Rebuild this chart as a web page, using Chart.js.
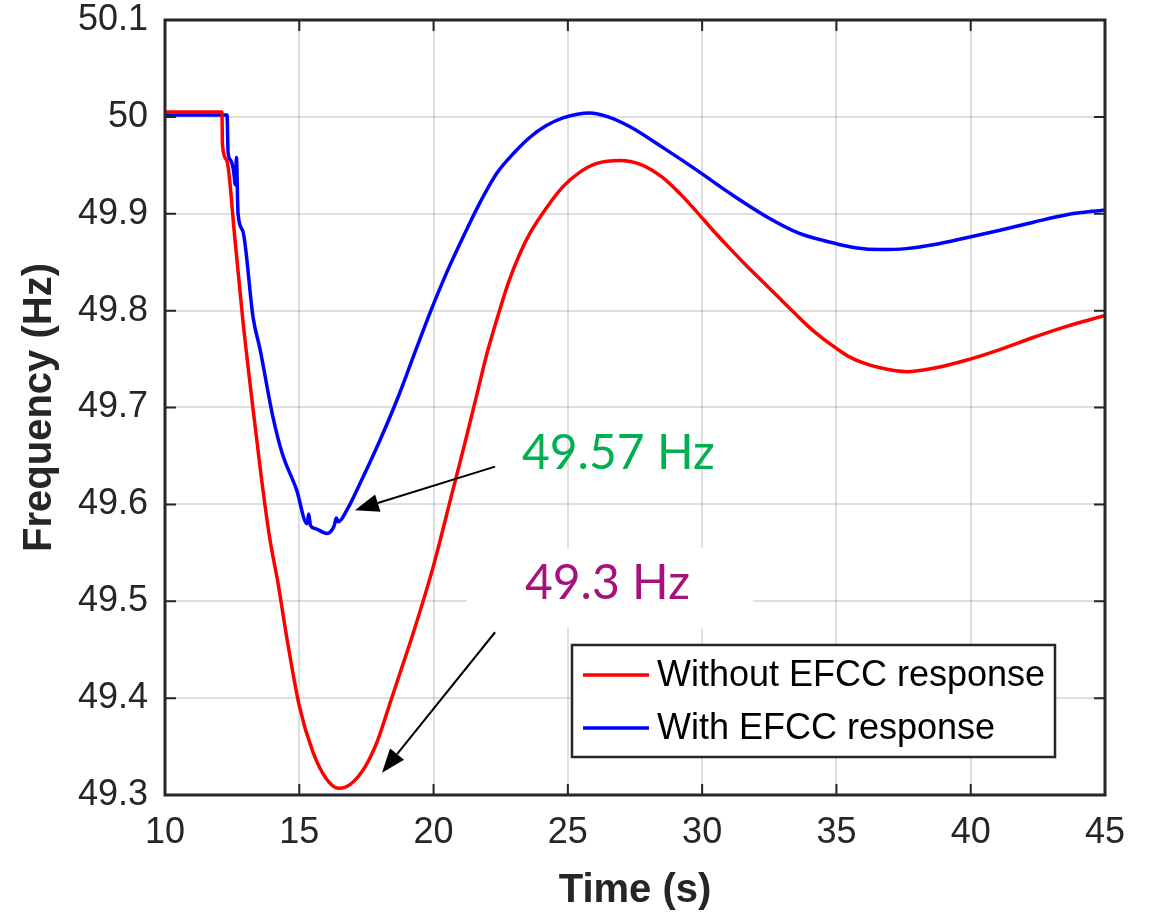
<!DOCTYPE html>
<html>
<head>
<meta charset="utf-8">
<script src="https://cdn.jsdelivr.net/npm/chart.js@4"></script>
<style>
    html, body { margin: 0; padding: 0; background: #fff; }
    #wrap { width: 1151px; height: 917px; }
</style>
</head>
<body>
<div id="wrap"><canvas id="freqChart" width="1151" height="917"></canvas></div>
<script>
// Series (time in s, frequency in Hz)
const timeWithout = [10, 12.12, 12.14, 12.3, 12.6, 12.9, 13.28, 13.6, 13.9, 14.2, 14.55, 15.0, 15.5, 16.0, 16.45, 16.9, 17.45, 17.9, 18.38, 18.8, 19.24, 19.98, 20.72, 21.2, 21.6, 22.0, 22.4, 22.8, 23.2, 23.59, 24.2, 24.82, 25.45, 26.08, 26.94, 27.7, 28.5, 29.2, 29.8, 30.4, 31.04, 31.7, 32.4, 33.2, 33.9, 34.5, 35.0, 35.5, 36.0, 36.62, 37.63, 38.7, 39.86, 41.0, 42.3, 43.6, 45];
const freqWithout = [50.005, 50.005, 49.971, 49.955, 49.875, 49.79, 49.698, 49.625, 49.565, 49.52, 49.46, 49.392, 49.345, 49.317, 49.307, 49.311, 49.329, 49.355, 49.395, 49.43, 49.467, 49.535, 49.615, 49.667, 49.712, 49.757, 49.795, 49.83, 49.858, 49.88, 49.906, 49.928, 49.943, 49.952, 49.955, 49.951, 49.938, 49.92, 49.902, 49.883, 49.864, 49.845, 49.826, 49.804, 49.785, 49.771, 49.761, 49.752, 49.746, 49.741, 49.737, 49.741, 49.749, 49.759, 49.772, 49.784, 49.795];

const timeWith = [10, 12.31, 12.35, 12.45, 12.55, 12.62, 12.66, 12.72, 12.9, 13.28, 13.54, 14.02, 14.36, 14.9, 15.29, 15.35, 15.42, 15.6, 16.03, 16.3, 16.38, 16.45, 16.77, 17.37, 18.0, 18.64, 19.24, 19.9, 20.5, 21.1, 21.7, 22.36, 23.0, 23.59, 24.2, 24.82, 25.82, 26.5, 27.3, 28.5, 29.8, 31.04, 32.4, 33.6, 34.87, 35.7, 36.62, 37.6, 38.6, 39.8, 41.09, 42.3, 43.58, 45];
const freqWith = [50.002, 50.002, 49.963, 49.955, 49.945, 49.93, 49.958, 49.90, 49.882, 49.793, 49.76, 49.69, 49.653, 49.615, 49.58, 49.59, 49.578, 49.575, 49.570, 49.578, 49.586, 49.582, 49.594, 49.628, 49.666, 49.708, 49.752, 49.80, 49.84, 49.876, 49.91, 49.942, 49.963, 49.979, 49.991, 49.999, 50.004, 50.0, 49.99, 49.969, 49.945, 49.921, 49.897, 49.88, 49.870, 49.865, 49.863, 49.864, 49.868, 49.875, 49.883, 49.891, 49.899, 49.904];

const seriesLabels = ['Without EFCC response', 'With EFCC response'];
const xTicks = [10, 15, 20, 25, 30, 35, 40, 45];
const yTicks = [49.3, 49.4, 49.5, 49.6, 49.7, 49.8, 49.9, 50, 50.1];

// Callouts in data units: [text, t, f] and arrows [t0, f0, t1, f1]
const noteTexts = [['49.57 Hz', 23.29, 49.653], ['49.3 Hz', 23.40, 49.518]];
const noteArrows = [[22.29, 49.639, 17.07, 49.594], [22.29, 49.468, 18.08, 49.323]];
const noteMask = [21.24, 49.555, 31.89, 49.472];

const INK = '#262626';

const FreqChartModule = {
    chart: null,

    init() {
        const ctx = document.getElementById('freqChart').getContext('2d');
        this.chart = new Chart(ctx, {
            type: 'line',
            data: {
                datasets: [
                    this.makeDataset(seriesLabels[0], timeWithout, freqWithout, '#ff0000'),
                    this.makeDataset(seriesLabels[1], timeWith, freqWith, '#0000ff')
                ]
            },
            options: this.buildOptions(),
            plugins: [this.framePlugin()]
        });
    },

    makeDataset(label, xs, ys, color) {
        return {
            label: label,
            data: xs.map((t, i) => ({ x: t, y: ys[i] })),
            borderColor: color,
            backgroundColor: color,
            borderWidth: 3.5,
            pointRadius: 0,
            cubicInterpolationMode: 'monotone',
            fill: false
        };
    },

    buildOptions() {
        const tickFont = { family: '"Liberation Sans", Arial, sans-serif', size: 36, lineHeight: 1 };
        const titleFont = { family: '"Liberation Sans", Arial, sans-serif', size: 40, weight: 'bold' };
        const grid = { color: 'rgba(38,38,38,0.15)', lineWidth: 2, drawTicks: false };
        return {
            responsive: false,
            animation: false,
            layout: { padding: { left: 0, top: 20, right: 46, bottom: 0 } },
            plugins: { legend: { display: false }, tooltip: { enabled: false } },
            scales: {
                x: {
                    type: 'linear',
                    min: 10,
                    max: 45,
                    grid: grid,
                    border: { display: false },
                    afterBuildTicks: s => { s.ticks = xTicks.map(v => ({ value: v })); },
                    afterFit: s => { s.height = 122; s.paddingLeft = 0; s.paddingRight = 0; },
                    ticks: { font: tickFont, color: INK, padding: 20, maxRotation: 0 },
                    title: { display: true, text: 'Time (s)', font: titleFont, color: INK, padding: { top: 0, bottom: 2 } }
                },
                y: {
                    type: 'linear',
                    min: 49.3,
                    max: 50.1,
                    grid: grid,
                    border: { display: false },
                    afterBuildTicks: s => { s.ticks = yTicks.map(v => ({ value: v })); },
                    afterFit: s => { s.width = 165; s.paddingTop = 0; s.paddingBottom = 0; },
                    ticks: {
                        font: tickFont,
                        color: INK,
                        padding: 17,
                        callback: v => String(Number(v.toFixed(1)))
                    },
                    title: { display: true, text: 'Frequency (Hz)', font: titleFont, color: INK, padding: { top: 16, bottom: 0 } }
                }
            }
        };
    },

    framePlugin() {
        return {
            id: 'matlabFrame',
            beforeDatasetsDraw(chart) {
                // white patch behind the lower callout, hides grid lines
                const { ctx, scales: { x, y } } = chart;
                const x0 = x.getPixelForValue(noteMask[0]);
                const y0 = y.getPixelForValue(noteMask[1]);
                const x1 = x.getPixelForValue(noteMask[2]);
                const y1 = y.getPixelForValue(noteMask[3]);
                ctx.save();
                ctx.fillStyle = '#ffffff';
                ctx.fillRect(x0, y0, x1 - x0, y1 - y0);
                ctx.restore();
            },
            afterDatasetsDraw(chart) {
                const { ctx, scales: { x, y } } = chart;
                ctx.save();
                noteArrows.forEach(a => {
                    FreqChartModule.drawArrow(ctx,
                        x.getPixelForValue(a[0]), y.getPixelForValue(a[1]),
                        x.getPixelForValue(a[2]), y.getPixelForValue(a[3]));
                });
                const colors = ['#00b050', '#a6117e'];
                ctx.font = '48px Lato, "Open Sans", sans-serif';
                ctx.textBaseline = 'middle';
                ctx.textAlign = 'left';
                noteTexts.forEach((n, i) => {
                    ctx.fillStyle = colors[i];
                    ctx.fillText(n[0], x.getPixelForValue(n[1]), y.getPixelForValue(n[2]));
                });
                ctx.restore();
            },
            afterDraw(chart) {
                const { ctx, chartArea: a, scales: { x, y } } = chart;
                ctx.save();
                ctx.strokeStyle = INK;
                ctx.lineWidth = 3;
                ctx.strokeRect(a.left, a.top, a.right - a.left, a.bottom - a.top);

                // inward ticks on all four sides
                const tl = 11;
                ctx.lineWidth = 2;
                ctx.beginPath();
                xTicks.forEach(v => {
                    const px = x.getPixelForValue(v);
                    ctx.moveTo(px, a.bottom); ctx.lineTo(px, a.bottom - tl);
                    ctx.moveTo(px, a.top); ctx.lineTo(px, a.top + tl);
                });
                yTicks.forEach(v => {
                    const py = y.getPixelForValue(v);
                    ctx.moveTo(a.left, py); ctx.lineTo(a.left + tl, py);
                    ctx.moveTo(a.right, py); ctx.lineTo(a.right - tl, py);
                });
                ctx.stroke();

                FreqChartModule.drawLegend(chart);
                ctx.restore();
            }
        };
    },

    drawArrow(ctx, x0, y0, x1, y1) {
        const ang = Math.atan2(y1 - y0, x1 - x0);
        const head = 24;
        const half = 9;
        const bx = x1 - head * Math.cos(ang);
        const by = y1 - head * Math.sin(ang);
        ctx.strokeStyle = '#000';
        ctx.fillStyle = '#000';
        ctx.lineWidth = 2;
        ctx.beginPath();
        ctx.moveTo(x0, y0);
        ctx.lineTo(bx, by);
        ctx.stroke();
        ctx.beginPath();
        ctx.moveTo(x1, y1);
        ctx.lineTo(bx + half * Math.sin(ang), by - half * Math.cos(ang));
        ctx.lineTo(bx - half * Math.sin(ang), by + half * Math.cos(ang));
        ctx.closePath();
        ctx.fill();
    },

    drawLegend(chart) {
        const { ctx, chartArea: a } = chart;
        const w = 483, h = 112;
        const bx = a.right - 50 - w;
        const by = a.bottom - 38 - h;
        ctx.fillStyle = '#fff';
        ctx.fillRect(bx, by, w, h);
        ctx.strokeStyle = INK;
        ctx.lineWidth = 2.5;
        ctx.strokeRect(bx, by, w, h);
        ctx.font = '36px "Liberation Sans", Arial, sans-serif';
        ctx.textBaseline = 'middle';
        ctx.textAlign = 'left';
        chart.data.datasets.forEach((ds, i) => {
            const ly = by + 30 + i * 53;
            ctx.strokeStyle = ds.borderColor;
            ctx.lineWidth = 3.5;
            ctx.beginPath();
            ctx.moveTo(bx + 11, ly);
            ctx.lineTo(bx + 77, ly);
            ctx.stroke();
            ctx.fillStyle = '#000';
            ctx.fillText(ds.label, bx + 85, ly + 1);
        });
    }
};

document.addEventListener('DOMContentLoaded', () => {
    FreqChartModule.init();
});
</script>
</body>
</html>
